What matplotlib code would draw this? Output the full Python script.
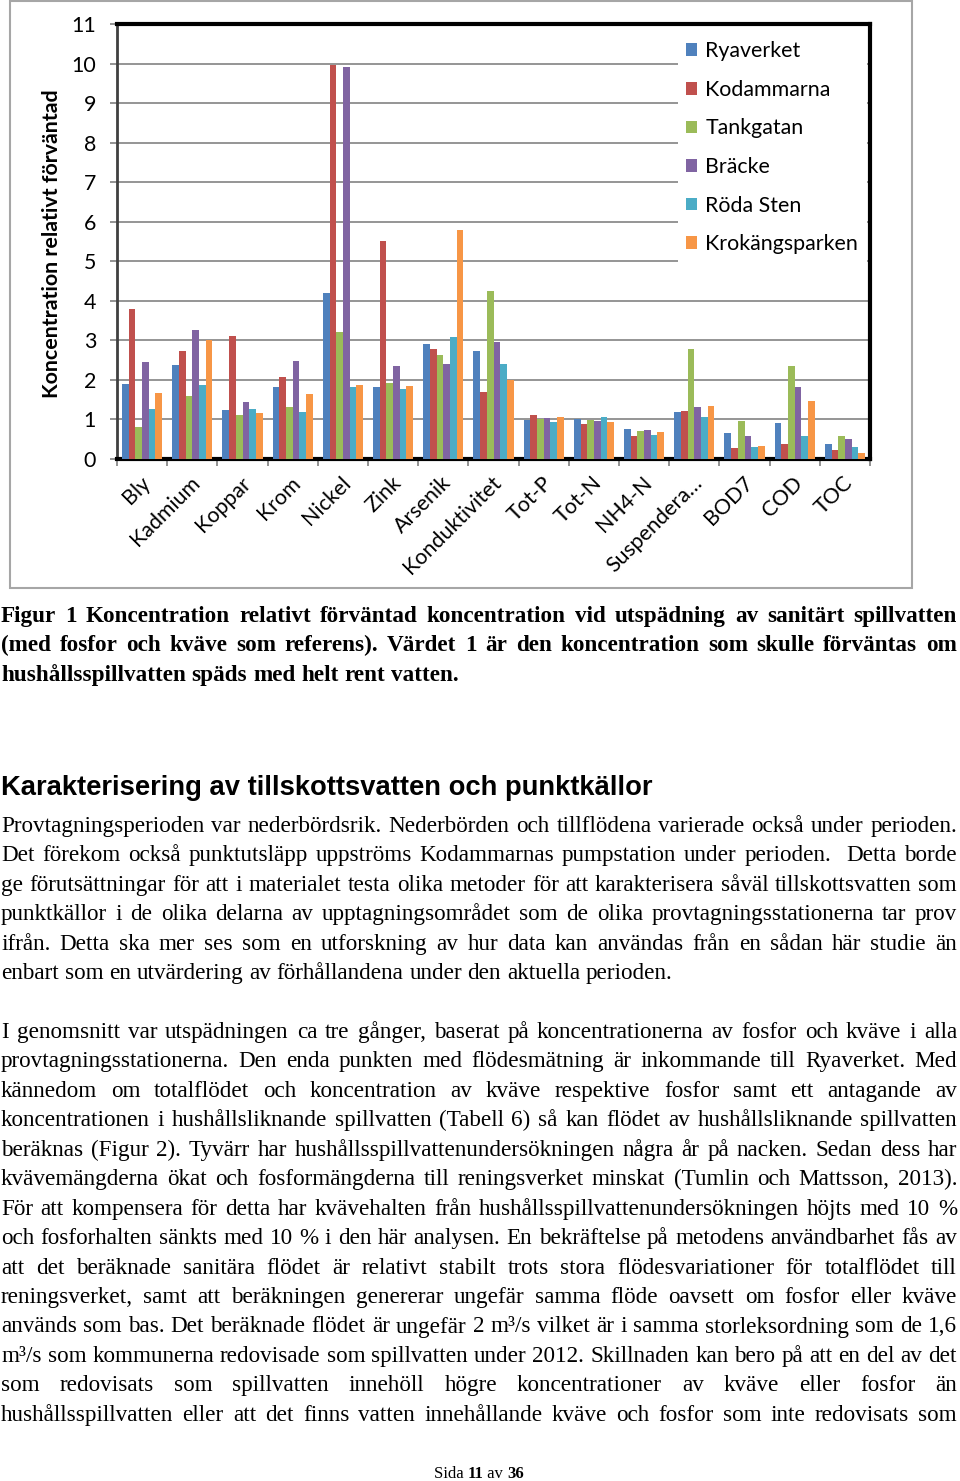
import matplotlib
matplotlib.use("Agg")
import matplotlib.pyplot as plt
import numpy as np
from matplotlib.patches import Rectangle
from matplotlib.transforms import ScaledTranslation

W, H = 960, 1481

categories = ["Bly", "Kadmium", "Koppar", "Krom", "Nickel", "Zink", "Arsenik",
              "Konduktivitet", "Tot-P", "Tot-N", "NH4-N", "Suspendera…", "BOD7",
              "COD", "TOC"]
stations = ["Ryaverket", "Kodammarna", "Tankgatan", "Bräcke", "Röda Sten", "Krokängsparken"]
ryaverket = [1.90, 2.38, 1.24, 1.82, 4.19, 1.81, 2.92, 2.72, 0.99, 1.00, 0.77, 1.20, 0.65, 0.92, 0.37]
kodammarna = [3.79, 2.73, 3.12, 2.08, 9.96, 5.52, 2.77, 1.69, 1.11, 0.88, 0.58, 1.21, 0.28, 0.37, 0.22]
tankgatan = [0.82, 1.59, 1.10, 1.32, 3.22, 1.91, 2.63, 4.24, 1.00, 0.99, 0.72, 2.78, 0.95, 2.34, 0.57]
bracke = [2.45, 3.26, 1.43, 2.49, 9.92, 2.35, 2.40, 2.97, 1.03, 0.95, 0.73, 1.31, 0.59, 1.82, 0.51]
roda_sten = [1.27, 1.87, 1.27, 1.18, 1.82, 1.76, 3.08, 2.41, 0.94, 1.05, 0.60, 1.07, 0.31, 0.59, 0.31]
krokangsparken = [1.68, 3.01, 1.16, 1.65, 1.88, 1.85, 5.80, 1.99, 1.05, 0.94, 0.69, 1.34, 0.32, 1.46, 0.16]
series = [ryaverket, kodammarna, tankgatan, bracke, roda_sten, krokangsparken]
colors = ["#4F81BD", "#C0504D", "#9BBB59", "#8064A2", "#4BACC6", "#F79646"]
yticks = list(range(0, 12))

caption = [
    "Figur 1 Koncentration relativt förväntad koncentration vid utspädning av sanitärt spillvatten",
    "(med fosfor och kväve som referens). Värdet 1 är den koncentration som skulle förväntas om",
    "hushållsspillvatten späds med helt rent vatten.",
]
heading = "Karakterisering av tillskottsvatten och punktkällor"
para1 = [
    "Provtagningsperioden var nederbördsrik. Nederbörden och tillflödena varierade också under perioden.",
    "Det förekom också punktutsläpp uppströms Kodammarnas pumpstation under perioden.  Detta borde",
    "ge förutsättningar för att i materialet testa olika metoder för att karakterisera såväl tillskottsvatten som",
    "punktkällor i de olika delarna av upptagningsområdet som de olika provtagningsstationerna tar prov",
    "ifrån. Detta ska mer ses som en utforskning av hur data kan användas från en sådan här studie än",
    "enbart som en utvärdering av förhållandena under den aktuella perioden.",
]
para2 = [
    "I genomsnitt var utspädningen ca tre gånger, baserat på koncentrationerna av fosfor och kväve i alla",
    "provtagningsstationerna. Den enda punkten med flödesmätning är inkommande till Ryaverket. Med",
    "kännedom om totalflödet och koncentration av kväve respektive fosfor samt ett antagande av",
    "koncentrationen i hushållsliknande spillvatten (Tabell 6) så kan flödet av hushållsliknande spillvatten",
    "beräknas (Figur 2). Tyvärr har hushållsspillvattenundersökningen några år på nacken. Sedan dess har",
    "kvävemängderna ökat och fosformängderna till reningsverket minskat (Tumlin och Mattsson, 2013).",
    "För att kompensera för detta har kvävehalten från hushållsspillvattenundersökningen höjts med 10 %",
    "och fosforhalten sänkts med 10 % i den här analysen. En bekräftelse på metodens användbarhet fås av",
    "att det beräknade sanitära flödet är relativt stabilt trots stora flödesvariationer för totalflödet till",
    "reningsverket, samt att beräkningen genererar ungefär samma flöde oavsett om fosfor eller kväve",
    "används som bas. Det beräknade flödet är ungefär 2 m³/s vilket är i samma storleksordning som de 1,6",
    "m³/s som kommunerna redovisade som spillvatten under 2012. Skillnaden kan bero på att en del av det",
    "som redovisats som spillvatten innehöll högre koncentrationer av kväve eller fosfor än",
    "hushållsspillvatten eller att det finns vatten innehållande kväve och fosfor som inte redovisats som",
]

CHART_FONT = "Lato"
SERIF = "Liberation Serif"
CFS = 15.4  # chart font size
BODY = 16.7

fig = plt.figure(figsize=(W / 100, H / 100), dpi=100)
renderer = fig.canvas.get_renderer()


def fy(py):
    return 1 - py / H


def put_line(text, y, x0=1, x1=957, justify=True, **kw):
    """Place a line word by word, stretching the gaps to fill x0..x1."""
    words = text.split(" ")
    arts = [fig.text(0, fy(y), w, va="baseline", ha="left", **kw) for w in words]
    widths = [a.get_window_extent(renderer).width if w else 0.0 for a, w in zip(arts, words)]
    if justify and len(words) > 1:
        gap = (x1 - x0 - sum(widths)) / (len(words) - 1)
    else:
        probe = fig.text(0, 0, "x x", **kw)
        probe2 = fig.text(0, 0, "xx", **kw)
        gap = probe.get_window_extent(renderer).width - probe2.get_window_extent(renderer).width
        probe.remove()
        probe2.remove()
    x = x0
    for a, w in zip(arts, widths):
        a.set_x(x / W)
        x += w + gap


# chart frame
fig.patches.append(Rectangle((10 / W, fy(588)), 902 / W, 587 / H, transform=fig.transFigure,
                             fill=False, edgecolor="#a6a6a6", lw=1.5))

ax = fig.add_axes([117 / W, fy(459), (870 - 117) / W, (459 - 24) / H])
x = np.arange(len(categories))
bw = 0.8 / len(series)
for i, (vals, col, name) in enumerate(zip(series, colors, stations)):
    ax.bar(x + (i - 2.5) * bw, vals, width=bw, color=col, label=name, zorder=3)

ax.set_xlim(-0.5, len(categories) - 0.5)
ax.set_ylim(0, 11)
ax.set_yticks(yticks)
ax.set_yticklabels([str(t) for t in yticks], fontsize=CFS, family=CHART_FONT)
ax.yaxis.grid(True, color="#8c8c8c", lw=1.3, zorder=0)
ax.set_axisbelow(True)
ax.tick_params(axis="y", length=5, width=1.2, color="#808080", pad=10)

ax.set_xticks(x)
ax.set_xticks(np.arange(-0.5, len(categories), 1), minor=True)
ax.set_xticklabels(categories, rotation=45, ha="right", va="center", rotation_mode="anchor",
                   fontsize=CFS, family=CHART_FONT)
ax.tick_params(axis="x", which="major", length=0, pad=15)
ax.tick_params(axis="x", which="minor", length=5, width=1.2, color="#808080")
shift = ScaledTranslation(0.05, 0, fig.dpi_scale_trans)
for lbl in ax.get_xticklabels():
    lbl.set_transform(lbl.get_transform() + shift)

for side in ["top", "right", "bottom"]:
    ax.spines[side].set_color("black")
    ax.spines[side].set_linewidth(3)
ax.spines["left"].set_color("#404040")
ax.spines["left"].set_linewidth(2)

leg = ax.legend(loc="upper left", bbox_to_anchor=(667 / W, fy(22)), bbox_transform=fig.transFigure,
                prop={"family": CHART_FONT, "size": CFS}, frameon=True, fancybox=False,
                edgecolor="none", facecolor="white", framealpha=1, borderpad=0.4,
                handlelength=0.52, handleheight=0.52, handletextpad=0.37, labelspacing=0.87)

fig.text(52 / W, fy(244), "Koncentration relativt förväntad", rotation=90, ha="center", va="center",
         fontsize=CFS, fontweight="bold", family=CHART_FONT)

# caption
for k, line in enumerate(caption):
    put_line(line, 622 + 29.3 * k, justify=k < 2, family=SERIF, fontsize=BODY, fontweight="bold")

fig.text(1 / W, fy(795), heading, ha="left", va="baseline", family="Liberation Sans",
         fontsize=19.7, fontweight="bold")

for k, line in enumerate(para1):
    put_line(line, 832 + 29.45 * k, justify=k < len(para1) - 1, family=SERIF, fontsize=BODY)
for k, line in enumerate(para2):
    put_line(line, 1038 + 29.45 * k, justify=True, family=SERIF, fontsize=BODY)

# footer
pieces = [("Sida ", "normal"), ("11", "bold"), (" av ", "normal"), ("36", "bold")]
arts = [fig.text(0, fy(1478), s, va="baseline", ha="left", family=SERIF, fontsize=12, fontweight=wt)
        for s, wt in pieces]
ws = [a.get_window_extent(renderer).width for a in arts]
px = 479 - sum(ws) / 2
for a, w in zip(arts, ws):
    a.set_x(px / W)
    px += w

fig.savefig("out.png", dpi=100)
